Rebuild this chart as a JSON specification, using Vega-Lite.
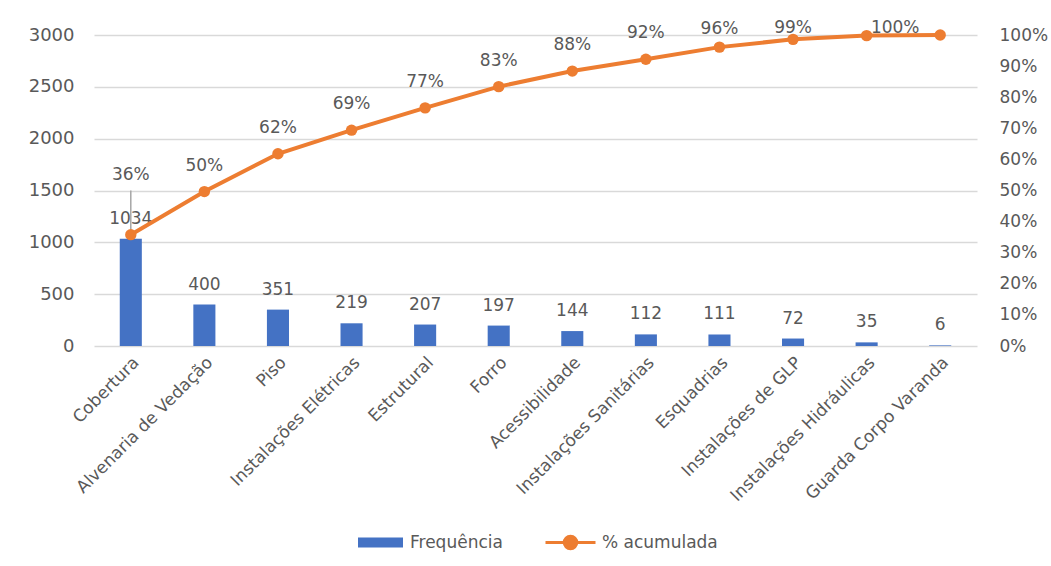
{
  "$schema": "https://vega.github.io/schema/vega-lite/v6.json",
  "width": 883,
  "height": 311,
  "autosize": {"type": "none"},
  "padding": {"left": 94, "top": 35, "right": 74, "bottom": 220},
  "background": "white",
  "config": {
    "view": {"stroke": null},
    "font": "DejaVu Sans",
    "axis": {"labelColor": "#595959", "labelFont": "DejaVu Sans"},
    "legend": {"labelColor": "#595959", "labelFontSize": 17, "labelFont": "DejaVu Sans", "title": null}
  },
  "data": {
    "values": [
      {"categoria": "Cobertura", "freq": 1034, "pct": 0.358},
      {"categoria": "Alvenaria de Vedação", "freq": 400, "pct": 0.4965},
      {"categoria": "Piso", "freq": 351, "pct": 0.618},
      {"categoria": "Instalações Elétricas", "freq": 219, "pct": 0.694},
      {"categoria": "Estrutural", "freq": 207, "pct": 0.7656},
      {"categoria": "Forro", "freq": 197, "pct": 0.834},
      {"categoria": "Acessibilidade", "freq": 144, "pct": 0.884},
      {"categoria": "Instalações Sanitárias", "freq": 112, "pct": 0.922},
      {"categoria": "Esquadrias", "freq": 111, "pct": 0.961},
      {"categoria": "Instalações de GLP", "freq": 72, "pct": 0.986},
      {"categoria": "Instalações Hidráulicas", "freq": 35, "pct": 0.998},
      {"categoria": "Guarda Corpo Varanda", "freq": 6, "pct": 1.0}
    ]
  },
  "encoding": {
    "x": {
      "field": "categoria",
      "type": "nominal",
      "sort": null,
      "scale": {"paddingInner": 0.7, "paddingOuter": 0.35},
      "axis": {
        "title": null,
        "labelAngle": -45,
        "labelFontSize": 17,
        "labelLimit": 0,
        "ticks": false,
        "domain": false,
        "labelPadding": 8
      }
    }
  },
  "layer": [
    {
      "encoding": {
        "y": {
          "field": "freq",
          "type": "quantitative",
          "scale": {"domain": [0, 3000], "nice": false},
          "axis": {
            "orient": "left",
            "title": null,
            "format": "d",
            "values": [0, 500, 1000, 1500, 2000, 2500, 3000],
            "grid": true,
            "gridColor": "#D9D9D9",
            "gridWidth": 1.5,
            "domain": false,
            "ticks": false,
            "labelPadding": 20,
            "labelFontSize": 18
          }
        }
      },
      "layer": [
        {
          "mark": {"type": "bar"},
          "encoding": {
            "fill": {
              "datum": "Frequência",
              "type": "nominal",
              "scale": {"range": ["#4472C4"]},
              "legend": {
                "orient": "none",
                "legendX": 264,
                "legendY": 485,
                "symbolType": "M-1,-0.22H1V0.22H-1Z",
                "symbolSize": 2025,
                "symbolStrokeWidth": 0,
                "labelOffset": 7
              }
            }
          }
        },
        {
          "mark": {"type": "text", "dy": -15, "baseline": "alphabetic", "fontSize": 17, "color": "#595959"},
          "encoding": {"text": {"field": "freq", "type": "quantitative"}}
        }
      ]
    },
    {
      "encoding": {
        "y": {
          "field": "pct",
          "type": "quantitative",
          "scale": {"domain": [0, 1], "nice": false},
          "axis": {
            "orient": "right",
            "title": null,
            "values": [0, 0.1, 0.2, 0.3, 0.4, 0.5, 0.6, 0.7, 0.8, 0.9, 1],
            "format": ".0%",
            "grid": false,
            "domain": false,
            "ticks": false,
            "labelPadding": 22,
            "labelFontSize": 17
          }
        }
      },
      "layer": [
        {
          "transform": [{"filter": "datum.categoria === 'Cobertura'"}],
          "mark": {"type": "rule", "color": "#A6A6A6", "strokeWidth": 1.5},
          "encoding": {"y2": {"datum": 0.5}}
        },
        {
          "mark": {"type": "line", "strokeWidth": 4},
          "encoding": {
            "stroke": {
              "datum": "% acumulada",
              "type": "nominal",
              "scale": {"range": ["#ED7D31"]},
              "legend": {
                "orient": "none",
                "legendX": 450,
                "legendY": 481,
                "symbolType": "M-1,0H1M-0.25,0A0.25,0.25,0,1,1,0.25,0A0.25,0.25,0,1,1,-0.25,0Z",
                "symbolSize": 2500,
                "symbolStrokeWidth": 3,
                "labelOffset": 5,
                "encode": {"symbols": {"update": {"fill": {"value": "#ED7D31"}, "stroke": {"value": "#ED7D31"}}}}
              }
            }
          }
        },
        {
          "mark": {"type": "point", "filled": true, "size": 130, "color": "#ED7D31", "opacity": 1}
        },
        {
          "transform": [{"filter": "indexof(['Cobertura', 'Esquadrias', 'Instalações de GLP', 'Instalações Hidráulicas', 'Guarda Corpo Varanda'], datum.categoria) < 0"}],
          "mark": {"type": "text", "dy": -21, "baseline": "alphabetic", "fontSize": 17, "color": "#595959"},
          "encoding": {"text": {"field": "pct", "type": "quantitative", "format": ".0%"}}
        },
        {
          "transform": [{"filter": "datum.categoria === 'Cobertura'"}],
          "mark": {"type": "text", "dy": -55, "baseline": "alphabetic", "fontSize": 17, "color": "#595959"},
          "encoding": {"text": {"field": "pct", "type": "quantitative", "format": ".0%"}}
        },
        {
          "transform": [{"filter": "datum.categoria === 'Esquadrias'"}],
          "mark": {"type": "text", "dy": -13, "baseline": "alphabetic", "fontSize": 17, "color": "#595959"},
          "encoding": {"text": {"field": "pct", "type": "quantitative", "format": ".0%"}}
        },
        {
          "transform": [{"filter": "datum.categoria === 'Instalações de GLP'"}],
          "mark": {"type": "text", "dy": -6, "baseline": "alphabetic", "fontSize": 17, "color": "#595959"},
          "encoding": {"text": {"field": "pct", "type": "quantitative", "format": ".0%"}}
        },
        {
          "transform": [{"filter": "datum.categoria === 'Guarda Corpo Varanda'"}],
          "mark": {"type": "text", "dx": -45, "dy": -2, "baseline": "alphabetic", "fontSize": 17, "color": "#595959"},
          "encoding": {"text": {"field": "pct", "type": "quantitative", "format": ".0%"}}
        }
      ]
    }
  ],
  "resolve": {"scale": {"y": "independent", "fill": "independent", "stroke": "independent"}}
}
